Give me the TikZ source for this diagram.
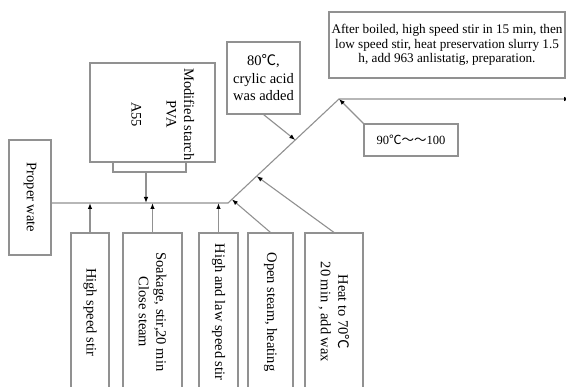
\documentclass[tikz,border=0pt]{standalone}
\usepackage{fontspec}
\setmainfont{Liberation Serif}
\newfontfamily\cjk{Noto Sans CJK SC}
\usetikzlibrary{arrows.meta,calc}
\definecolor{lg}{RGB}{145,145,145}
\newcommand{\degc}{{\cjk ℃}}
\begin{document}
\begin{tikzpicture}[x=1pt,y=-1pt,
  ln/.style={draw=lg, line width=1.1pt},
  box/.style={draw=lg, line width=1.1pt, inner sep=0pt, align=center, text=black,
              font=\fontsize{14.5}{17.5}\selectfont},
  vbox/.style={box, rotate=-90},
  arr/.style={draw=lg, line width=1.1pt, -{Latex[length=6pt,width=4.5pt,color=black]}},
]
\clip (0,0) rectangle (566,387);
\fill[white] (0,0) rectangle (566,387);

% skeleton coordinates
\coordinate (k) at (228,203);
\coordinate (t) at (339,99);
\coordinate (e) at (570,99);

% starch box
\node[box, minimum width=125pt, minimum height=99pt] (starch) at (152.5,112.5) {};
\node[rotate=-90, align=center, inner sep=0pt, font=\fontsize{14.5}{17.5}\selectfont] (starchtxt) at (163,114.5)
  {Modified starch\\PVA\\[17.5pt]A55};
\coordinate (bl) at (113,172);
\coordinate (br) at (186,172);
\coordinate (bm) at (146,172);
\draw[ln] (bl |- starch.south) -- (bl) -- (br) -- (br |- starch.south);

% proper water
\node[vbox, minimum width=115pt, minimum height=42pt] (proper) at (30,197.5) {Proper wate};

% top boxes
\node[box, minimum width=73pt, minimum height=72pt] (c80) at (263.5,78) {80\degc,\\crylic acid\\was added};
\node[box, font=\fontsize{13.2}{14.5}\selectfont, minimum width=236pt, minimum height=66pt] (fin) at (447,45)
  {After boiled, high speed stir in 15 min, then\\low speed stir, heat preservation slurry 1.5\\h, add 963 anlistatig, preparation.};
\node[box, font=\fontsize{12.5}{15}\selectfont, minimum width=94pt, minimum height=32pt] (c90) at (411,140)
  {90\degc{\cjk 〜〜}100};

% bottom boxes
\node[vbox, minimum width=158pt, minimum height=38pt] (b1) at (90,312) {High speed stir};
\node[vbox, minimum width=158pt, minimum height=59pt] (b2) at (152.5,312) {Soakage, stir,20 min\\Close steam};
\node[vbox, minimum width=158pt, minimum height=39pt] (b3) at (218.5,312) {High and law speed stir};
\node[vbox, minimum width=158pt, minimum height=45pt] (b4) at (270.5,312) {Open steam, heating};
\node[vbox, minimum width=158pt, minimum height=58pt] (b5) at (334,312) {Heat to 70\degc\\20 min , add wax};

% main line
\draw[arr] (proper.north |- k) -- (k) -- (t) -- (e);

% arrows
\draw[arr] (bm) -- (bm |- k);
\draw[arr] (b1.west) -- (b1.west |- k);
\draw[arr] (b2.west) -- (b2.west |- k);
\draw[arr] (b3.west) -- (b3.west |- k);
\draw[arr] (b4.west) -- ($(k)!0.035!(t)$);
\draw[arr] (b5.west) -- ($(k)!0.258!(t)$);
\draw[arr] (c80.south) -- ($(k)!0.606!(t)$);
\draw[arr] (c90.north west) -- (t);
\end{tikzpicture}
\end{document}
